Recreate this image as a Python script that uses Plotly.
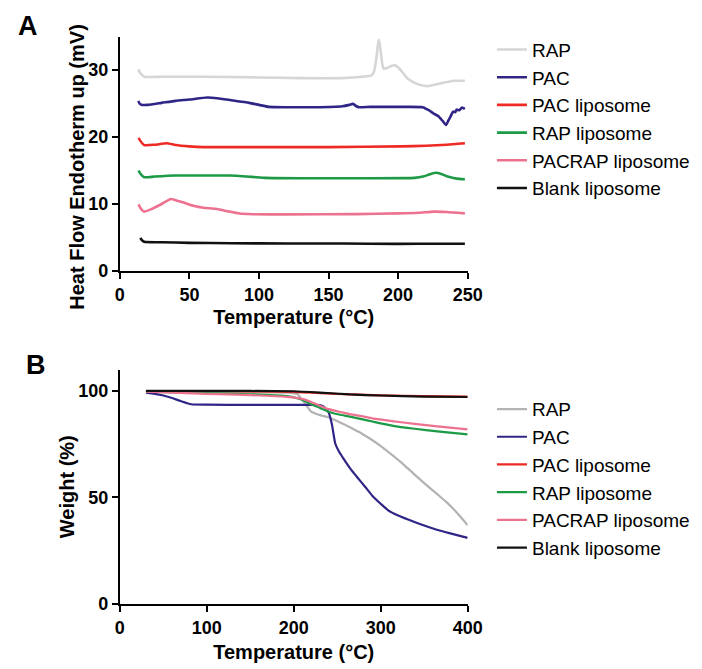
import plotly.graph_objects as go

# ---------------- Panel A (DSC) data ----------------
names = ["RAP", "PAC", "PAC liposome", "RAP liposome", "PACRAP liposome", "Blank liposome"]
colors_a = ["#d6d6d6", "#2f2586", "#ee2a24", "#1c9a46", "#ec7290", "#111111"]
colors_b = ["#b3b3b3", "#2f2586", "#ee2a24", "#1c9a46", "#ec7290", "#111111"]

rap_a_x = [13.3, 14.5, 17.5, 30, 60, 100, 130, 160, 174.6, 180.9, 182.7, 184.5, 185.5, 186.2, 187.2, 188.4, 189.6, 192, 195, 197.8, 201, 207, 214, 221, 230, 240, 248]
rap_a_y = [30.1, 29.6, 29.0, 29.0, 29.0, 28.9, 28.8, 28.8, 29.0, 29.2, 29.8, 32.0, 33.8, 34.5, 33.3, 31.2, 30.2, 30.3, 30.6, 30.7, 30.2, 28.7, 27.9, 27.6, 28.0, 28.4, 28.4]

pac_a_x = [13.3, 14.2, 16, 20, 30, 40, 50, 62.8, 70, 80, 93, 100, 107, 120, 140, 160, 165, 167.6, 170, 172, 180, 200, 217.6, 222, 225.6, 229, 232, 234.4, 236, 238, 239.5, 241, 242, 244, 246, 248]
pac_a_y = [25.4, 25.0, 24.8, 24.8, 25.1, 25.4, 25.6, 25.9, 25.8, 25.5, 25.1, 24.8, 24.5, 24.45, 24.45, 24.6, 24.8, 24.95, 24.6, 24.45, 24.5, 24.5, 24.45, 24.0, 23.5, 23.1, 22.4, 21.8, 22.4, 23.2, 23.8, 23.7, 24.1, 24.0, 24.4, 24.2]

paclip_a_x = [13.5, 14.5, 17.5, 25, 33.8, 40, 50, 60.5, 80, 100, 150, 202.5, 220, 235, 248]
paclip_a_y = [19.9, 19.5, 18.8, 18.85, 19.07, 18.8, 18.6, 18.5, 18.5, 18.5, 18.5, 18.6, 18.7, 18.85, 19.07]

raplip_a_x = [13.5, 14.5, 17.5, 25, 39.6, 60, 79, 95, 104.7, 130, 170, 211.8, 218, 223, 227, 231, 235, 239.8, 244, 248]
raplip_a_y = [15.0, 14.6, 14.0, 14.1, 14.26, 14.26, 14.26, 14.05, 13.9, 13.85, 13.85, 13.9, 14.1, 14.45, 14.66, 14.5, 14.15, 13.9, 13.75, 13.7]

pacrap_a_x = [13.5, 14.5, 17.5, 23.3, 30, 36.7, 41, 45.4, 53.5, 60, 69.8, 78, 86, 95.4, 120, 170, 200, 215, 225.8, 235, 248]
pacrap_a_y = [9.95, 9.5, 8.87, 9.3, 10.0, 10.74, 10.5, 10.25, 9.7, 9.45, 9.26, 8.9, 8.58, 8.48, 8.45, 8.5, 8.6, 8.7, 8.87, 8.8, 8.6]

blank_a_x = [14.7, 15.5, 17.5, 30, 50, 80, 120, 160, 200, 230, 248]
blank_a_y = [4.95, 4.7, 4.36, 4.3, 4.2, 4.15, 4.1, 4.1, 4.05, 4.07, 4.07]

# ---------------- Panel B (TGA) data ----------------
rap_b_x = [30, 100, 150, 190, 204, 212, 220, 230, 240, 252, 264.5, 278, 290.5, 302, 313, 326, 339, 352, 365, 375, 383.6, 392, 400]
rap_b_y = [99.8, 99.6, 99.4, 99.2, 98.5, 94.5, 90.2, 88.6, 87.6, 85.4, 82.9, 80.0, 76.8, 73.5, 69.9, 65.5, 60.7, 56.0, 51.5, 48.0, 44.6, 40.8, 36.9]

pac_b_x = [30, 40, 50, 60, 70, 82, 100, 150, 200, 225, 231, 236, 240, 244, 247.7, 252, 257, 265, 273.7, 282, 290.5, 300, 309, 320, 331.5, 345, 361, 380, 400]
pac_b_y = [99.1, 98.6, 97.8, 96.6, 95.2, 93.7, 93.5, 93.4, 93.4, 93.4, 93.2, 92.0, 89.9, 84.0, 75.3, 71.5, 68.3, 63.5, 59.1, 55.0, 50.7, 47.0, 43.8, 41.5, 39.6, 37.5, 35.3, 33.1, 31.0]

paclip_b_x = [30, 100, 200, 250, 300, 350, 400]
paclip_b_y = [99.9, 99.8, 99.5, 98.5, 97.9, 97.5, 97.3]

raplip_b_x = [30, 100, 150, 190, 205, 212, 220, 230, 240, 252, 264.5, 278, 290.5, 313, 339, 365, 400]
raplip_b_y = [99.6, 98.9, 98.4, 97.6, 96.4, 95.3, 93.7, 92.0, 90.2, 88.9, 87.9, 86.7, 85.6, 83.7, 82.2, 81.0, 79.6]

pacrap_b_x = [30, 100, 150, 192, 205, 212, 220, 230, 240, 252, 264.5, 278, 290.5, 313, 339, 365, 400]
pacrap_b_y = [99.6, 98.6, 98.0, 97.2, 96.6, 96.0, 94.8, 93.0, 91.4, 90.2, 89.1, 88.1, 87.1, 85.8, 84.5, 83.3, 81.9]

blank_b_x = [30, 100, 200, 230, 264.5, 300, 350, 400]
blank_b_y = [100, 100, 99.8, 99.2, 98.3, 97.8, 97.3, 97.1]

a_xticks = [0, 50, 100, 150, 200, 250]
a_yticks = [0, 10, 20, 30]
b_xticks = [0, 100, 200, 300, 400]
b_yticks = [0, 50, 100]

series_a = [(rap_a_x, rap_a_y), (pac_a_x, pac_a_y), (paclip_a_x, paclip_a_y),
            (raplip_a_x, raplip_a_y), (pacrap_a_x, pacrap_a_y), (blank_a_x, blank_a_y)]
series_b = [(rap_b_x, rap_b_y), (pac_b_x, pac_b_y), (paclip_b_x, paclip_b_y),
            (raplip_b_x, raplip_b_y), (pacrap_b_x, pacrap_b_y), (blank_b_x, blank_b_y)]

FONT = "Arial, Liberation Sans, sans-serif"
W, H = 702, 669

fig = go.Figure()
for (x, y), n, c in zip(series_a, names, colors_a):
    fig.add_trace(go.Scatter(x=x, y=y, mode="lines", name=n, line=dict(color=c, width=2.6, shape="spline", smoothing=0.5),
                             xaxis="x", yaxis="y", legend="legend"))
for (x, y), n, c in zip(series_b, names, colors_b):
    fig.add_trace(go.Scatter(x=x, y=y, mode="lines", name=n, line=dict(color=c, width=2.2, shape="spline", smoothing=0.5),
                             xaxis="x2", yaxis="y2", legend="legend2"))

xd = [110 / W, 468 / W]
axis_common = dict(showline=True, linecolor="black", linewidth=2, ticks="outside", ticklen=6, tickwidth=2,
                   tickcolor="black", showgrid=False, zeroline=False,
                   tickfont=dict(family=FONT, size=18, color="black", weight="bold"))
title_font = dict(family=FONT, size=20, color="black", weight="bold")
panel_font = dict(family=FONT, size=27, color="black", weight="bold")

fig.update_layout(
    width=W, height=H, margin=dict(l=0, r=0, t=0, b=0),
    paper_bgcolor="white", plot_bgcolor="white",
    xaxis=dict(domain=xd, range=[0, 250], tickvals=a_xticks, anchor="y",
               title=dict(text="Temperature (°C)", font=title_font, standoff=6), **axis_common),
    yaxis=dict(domain=[(H - 267) / H, (H - 29) / H], range=[0, 35], tickvals=a_yticks, anchor="x", **axis_common),
    xaxis2=dict(domain=xd, range=[0, 400], tickvals=b_xticks, anchor="y2",
                title=dict(text="Temperature (°C)", font=title_font, standoff=8), **axis_common),
    yaxis2=dict(domain=[(H - 605) / H, (H - 367) / H], range=[0, 110], tickvals=b_yticks, anchor="x2", **axis_common),
    legend=dict(x=493 / W, y=1 - 23 / H, xanchor="left", yanchor="top", bgcolor="rgba(0,0,0,0)",
                font=dict(family=FONT, size=19, color="black"), itemwidth=30, tracegroupgap=0),
    legend2=dict(x=493 / W, y=1 - 388 / H, xanchor="left", yanchor="top", bgcolor="rgba(0,0,0,0)",
                 font=dict(family=FONT, size=19, color="black"), itemwidth=30, tracegroupgap=0),
    annotations=[
        dict(text="A", x=15 / W, y=1 - 18 / H, xref="paper", yref="paper", showarrow=False,
             xanchor="center", yanchor="middle", font=panel_font),
        dict(text="B", x=24 / W, y=1 - 362 / H, xref="paper", yref="paper", showarrow=False,
             xanchor="center", yanchor="middle", font=panel_font),
        dict(text="Heat Flow Endotherm up (mV)", x=65 / W, y=1 - 161 / H, xref="paper", yref="paper",
             showarrow=False, textangle=-90, xanchor="center", yanchor="middle", font=title_font),
        dict(text="Weight (%)", x=55 / W, y=1 - 486 / H, xref="paper", yref="paper",
             showarrow=False, textangle=-90, xanchor="center", yanchor="middle", font=title_font),
    ],
)

fig.write_html("out.html")
